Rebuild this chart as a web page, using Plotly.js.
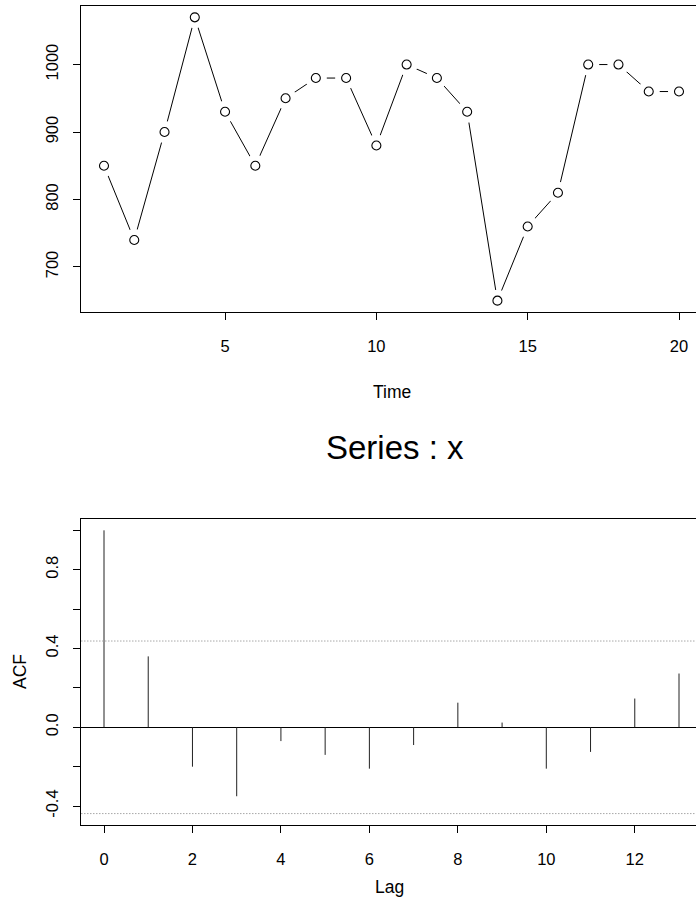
<!DOCTYPE html>
<html>
<head>
<meta charset="utf-8">
<script src="https://cdn.plot.ly/plotly-3.0.1.min.js"></script>
<style>
html, body { margin: 0; padding: 0; overflow: hidden; background: #fff; width: 696px; height: 897px; }
#chart { width: 722px; height: 897px; }
</style>
</head>
<body>
<div id="chart"></div>
<script>
// ---- data ----
const timeIndex = [1, 2, 3, 4, 5, 6, 7, 8, 9, 10, 11, 12, 13, 14, 15, 16, 17, 18, 19, 20];
const seriesX   = [850, 740, 900, 1070, 930, 850, 950, 980, 980, 880, 1000, 980, 930, 650, 760, 810, 1000, 1000, 960, 960];
const lags      = [0, 1, 2, 3, 4, 5, 6, 7, 8, 9, 10, 11, 12, 13];
const acfValues = [1.0, 0.36, -0.20, -0.35, -0.07, -0.14, -0.21, -0.09, 0.125, 0.024, -0.21, -0.125, 0.146, 0.273];
const ciBound   = 0.438;
const topXTicks = [5, 10, 15, 20];
const topYTicks = [700, 800, 900, 1000];
const acfXTicks = [0, 2, 4, 6, 8, 10, 12];
const acfYTicks = [-0.4, -0.2, 0.0, 0.2, 0.4, 0.6, 0.8, 1.0];
const acfYText  = ["-0.4", "", "0.0", "", "0.4", "", "0.8", ""];

// ---- build ACF spikes ----
const spikeX = [], spikeY = [];
lags.forEach((l, i) => { spikeX.push(l, l, null); spikeY.push(0, acfValues[i], null); });

const FONT = "Liberation Sans, Arial, Helvetica, sans-serif";
const W = 722, H = 897;

const traces = [
  { x: timeIndex, y: seriesX, type: 'scatter', mode: 'lines', xaxis: 'x', yaxis: 'y',
    line: { color: '#000', width: 1 }, hoverinfo: 'skip' },
  { x: timeIndex, y: seriesX, type: 'scatter', mode: 'markers', xaxis: 'x', yaxis: 'y',
    marker: { symbol: 'circle', size: 22, color: '#fff', line: { width: 0 } }, hoverinfo: 'skip', cliponaxis: false },
  { x: timeIndex, y: seriesX, type: 'scatter', mode: 'markers', xaxis: 'x', yaxis: 'y',
    marker: { symbol: 'circle', size: 9, color: '#fff', line: { color: '#000', width: 1.1 } }, hoverinfo: 'skip', cliponaxis: false },
  { x: spikeX, y: spikeY, type: 'scatter', mode: 'lines', xaxis: 'x2', yaxis: 'y2',
    line: { color: '#222', width: 1 }, hoverinfo: 'skip', connectgaps: false }
];

const axisCommon = {
  showgrid: false, zeroline: false, showline: true, mirror: true,
  linecolor: '#000', linewidth: 1, ticks: 'outside', ticklen: 7, tickwidth: 1, tickcolor: '#000',
  tickfont: { family: FONT, size: 16.5, color: '#000' }, fixedrange: true
};

const layout = {
  width: W, height: H,
  margin: { l: 0, r: 0, t: 0, b: 0 },
  paper_bgcolor: '#fff', plot_bgcolor: '#fff',
  showlegend: false,
  font: { family: FONT, color: '#000' },
  xaxis: Object.assign({}, axisCommon, {
    domain: [81 / W, 702 / W], anchor: 'y', range: [0.24, 20.76],
    tickmode: 'array', tickvals: topXTicks, ticklabelstandoff: 12
  }),
  yaxis: Object.assign({}, axisCommon, {
    domain: [1 - 312 / H, 1 - 6 / H], anchor: 'x', range: [633.2, 1086.8],
    tickmode: 'array', tickvals: topYTicks, tickangle: -90, ticklabelstandoff: 8
  }),
  xaxis2: Object.assign({}, axisCommon, {
    domain: [81 / W, 702 / W], anchor: 'y2', range: [-0.52, 13.52],
    tickmode: 'array', tickvals: acfXTicks, ticklabelstandoff: 12
  }),
  yaxis2: Object.assign({}, axisCommon, {
    domain: [1 - 825 / H, 1 - 519 / H], anchor: 'x2', range: [-0.496, 1.0575],
    tickmode: 'array', tickvals: acfYTicks, ticktext: acfYText, tickangle: -90, ticklabelstandoff: 8,
    zeroline: true, zerolinecolor: '#000', zerolinewidth: 1
  }),
  shapes: [
    { type: 'line', xref: 'x2 domain', yref: 'y2', x0: 0, x1: 1, y0: ciBound, y1: ciBound,
      line: { color: '#a8a8a8', width: 1, dash: '1.5px,1.5px' } },
    { type: 'line', xref: 'x2 domain', yref: 'y2', x0: 0, x1: 1, y0: -ciBound, y1: -ciBound,
      line: { color: '#a8a8a8', width: 1, dash: '1.5px,1.5px' } }
  ],
  annotations: [
    { text: 'Time', xref: 'paper', yref: 'paper', x: 391.5 / W, y: 1 - 392 / H,
      xanchor: 'center', yanchor: 'middle', showarrow: false, font: { family: FONT, size: 17.5, color: '#000' } },
    { text: 'Series : x', xref: 'paper', yref: 'paper', x: 395 / W, y: 1 - 447 / H,
      xanchor: 'center', yanchor: 'middle', showarrow: false, font: { family: FONT, size: 33, color: '#000' } },
    { text: 'ACF', xref: 'paper', yref: 'paper', x: 20 / W, y: 1 - 672 / H, textangle: -90,
      xanchor: 'center', yanchor: 'middle', showarrow: false, font: { family: FONT, size: 17.5, color: '#000' } },
    { text: 'Lag', xref: 'paper', yref: 'paper', x: 390 / W, y: 1 - 887 / H,
      xanchor: 'center', yanchor: 'middle', showarrow: false, font: { family: FONT, size: 17.5, color: '#000' } }
  ]
};

Plotly.newPlot('chart', traces, layout, { staticPlot: true, displayModeBar: false });
</script>
</body>
</html>
